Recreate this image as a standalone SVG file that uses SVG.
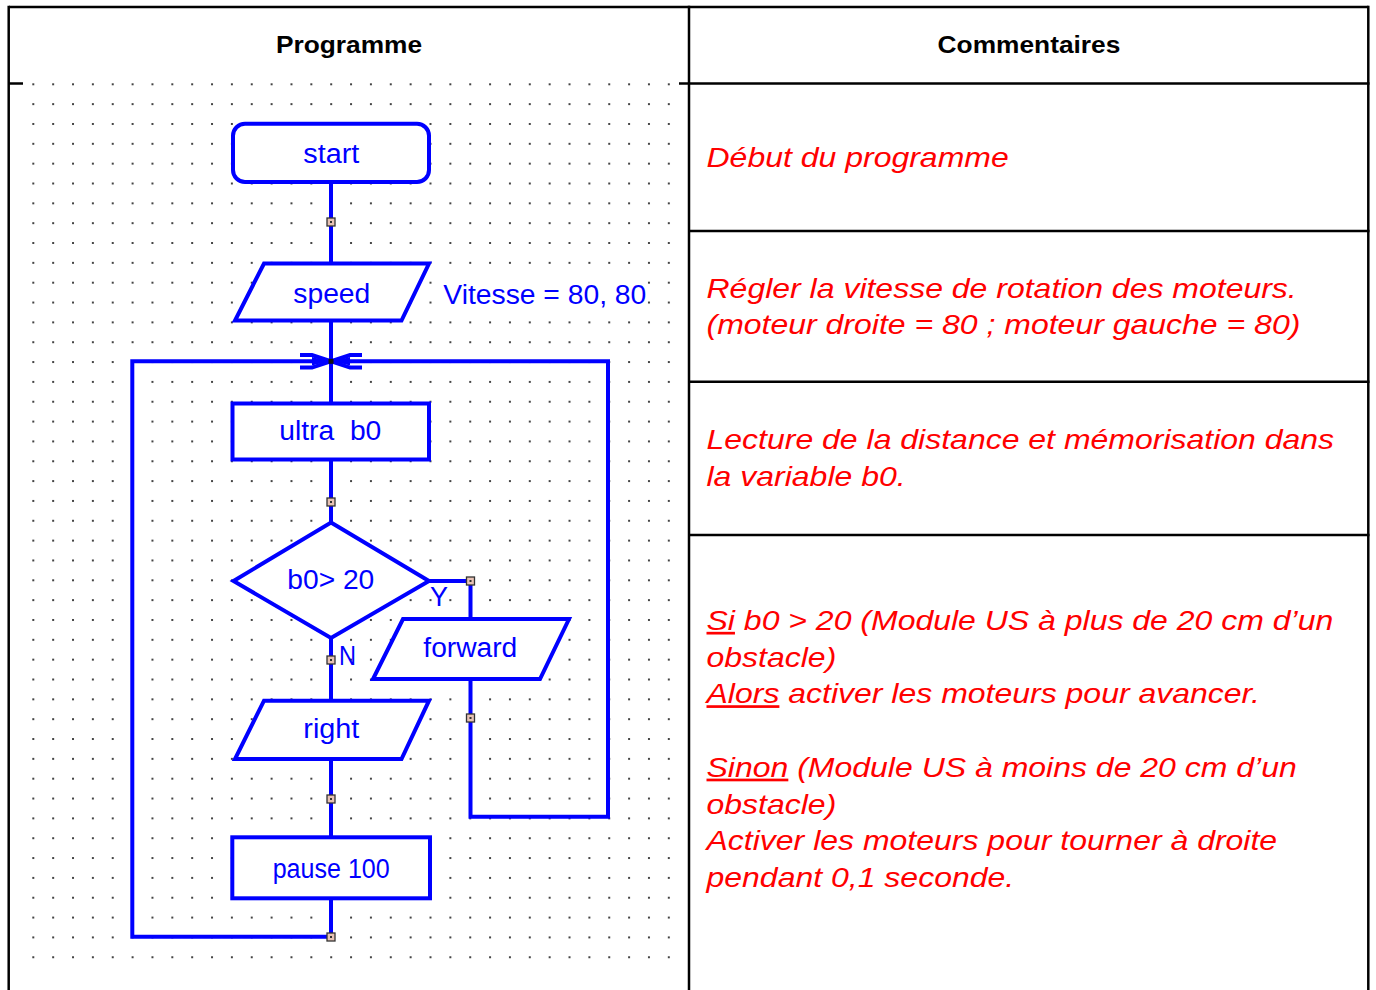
<svg xmlns="http://www.w3.org/2000/svg" width="1376" height="990" viewBox="0 0 1376 990">
<style>
.tb{stroke:#000;stroke-width:2.5;fill:none}
.hd{font-family:"Liberation Sans",Arial,sans-serif;font-weight:bold;font-size:23.5px;fill:#000}
.cm{font-family:"Liberation Sans",Arial,sans-serif;font-style:italic;font-size:27px;fill:#ff0000}
.fl{stroke:#0000ff;stroke-width:4;fill:none;stroke-linejoin:miter}
.nd{stroke:#0000ff;stroke-width:4;fill:#fff}
.ft{font-family:"Liberation Sans",Arial,sans-serif;font-size:27px;fill:#0000ff}
</style>
<defs>
<pattern id="grid" x="32.3" y="83.3" width="19.86" height="19.84" patternUnits="userSpaceOnUse">
<rect x="0" y="0" width="2" height="2" fill="#444"/>
</pattern>
<g id="jn">
<rect x="-4" y="-4" width="8" height="8" fill="#e8c2b4" stroke="#333" stroke-width="1.3"/>
<rect x="-1" y="-1" width="2" height="2" fill="#333"/>
</g>
</defs>
<rect x="0" y="0" width="1376" height="990" fill="#fff"/>
<g id="table">
<line class="tb" x1="9" y1="7" x2="1368.5" y2="7"/>
<line class="tb" x1="8.7" y1="5.8" x2="8.7" y2="990"/>
<line class="tb" x1="689" y1="5.8" x2="689" y2="990"/>
<line class="tb" x1="1368.3" y1="5.8" x2="1368.3" y2="990"/>
<line class="tb" x1="8" y1="83.5" x2="1369.5" y2="83.5"/>
<line class="tb" x1="689" y1="231" x2="1369.5" y2="231"/>
<line class="tb" x1="689" y1="381.8" x2="1369.5" y2="381.8"/>
<line class="tb" x1="689" y1="535" x2="1369.5" y2="535"/>
<text class="hd" text-anchor="middle" transform="translate(349,52.5) scale(1.12,1)">Programme</text>
<text class="hd" text-anchor="middle" transform="translate(1029,52.5) scale(1.12,1)">Commentaires</text>
</g>
<g id="comments">
<text class="cm" transform="translate(706.5,167) scale(1.185,1)">Début du programme</text>
<text class="cm" transform="translate(706.5,297.5) scale(1.185,1)">Régler la vitesse de rotation des moteurs.</text>
<text class="cm" transform="translate(706.5,334.2) scale(1.185,1)">(moteur droite = 80 ; moteur gauche = 80)</text>
<text class="cm" transform="translate(706.5,449.2) scale(1.185,1)">Lecture de la distance et mémorisation dans</text>
<text class="cm" transform="translate(706.5,485.9) scale(1.185,1)">la variable b0.</text>
<text class="cm" transform="translate(706.5,630) scale(1.185,1)"><tspan text-decoration="underline">Si</tspan> b0 &gt; 20 (Module US à plus de 20 cm d’un</text>
<text class="cm" transform="translate(706.5,666.7) scale(1.185,1)">obstacle)</text>
<text class="cm" transform="translate(706.5,703.4) scale(1.185,1)"><tspan text-decoration="underline">Alors</tspan> activer les moteurs pour avancer.</text>
<text class="cm" transform="translate(706.5,776.8) scale(1.185,1)"><tspan text-decoration="underline">Sinon</tspan> (Module US à moins de 20 cm d’un</text>
<text class="cm" transform="translate(706.5,813.5) scale(1.185,1)">obstacle)</text>
<text class="cm" transform="translate(706.5,850.2) scale(1.185,1)">Activer les moteurs pour tourner à droite</text>
<text class="cm" transform="translate(706.5,886.9) scale(1.185,1)">pendant 0,1 seconde.</text>
</g>
<g id="canvas">
<rect x="23" y="82" width="656" height="908" fill="#fff"/>
<rect x="23" y="82" width="656" height="885" fill="url(#grid)"/>
<rect x="436" y="271" width="208" height="43" fill="#fff"/>
</g>
<g id="connectors">
<line class="fl" x1="331" y1="182" x2="331" y2="263.5"/>
<line class="fl" x1="331" y1="320.5" x2="331" y2="403.5"/>
<line class="fl" x1="331" y1="459.5" x2="331" y2="522.5"/>
<polyline class="fl" points="429,581 470.5,581 470.5,619"/>
<line class="fl" x1="331" y1="638" x2="331" y2="700.7"/>
<line class="fl" x1="331" y1="759" x2="331" y2="837.3"/>
<polyline class="fl" points="331,898.3 331,936.7 132.3,936.7 132.3,361.3 331,361.3"/>
<polyline class="fl" points="470.5,679 470.5,816.7 608,816.7 608,361.3 331,361.3"/>
<path d="M300,355 L312,355 L331,361.3 L312,367.6 L300,367.6 M362,355 L350,355 L331,361.3 L350,367.6 L362,367.6" stroke="#0000ff" stroke-width="4" fill="none"/>
<path d="M312,357 L329,361.3 L312,365.6 Z M350,357 L333,361.3 L350,365.6 Z" fill="#0000ff"/>
<rect x="328.5" y="358.8" width="5" height="5" fill="#111"/>
</g>
<g id="node-start">
<rect class="nd" x="233" y="123.7" width="196" height="58.3" rx="12"/>
<text class="ft" x="303.3" y="163" textLength="56" lengthAdjust="spacingAndGlyphs">start</text>
</g>
<g id="node-speed">
<polygon class="nd" points="264,263.5 429,263.5 401.5,320.5 235,320.5"/>
<text class="ft" x="293.3" y="303" textLength="77" lengthAdjust="spacingAndGlyphs">speed</text>
<text class="ft" x="443.3" y="304" textLength="203" lengthAdjust="spacingAndGlyphs">Vitesse = 80, 80</text>
</g>
<g id="node-ultra">
<rect class="nd" x="232.5" y="403.5" width="196.5" height="56"/>
<text class="ft" x="279.3" y="440" textLength="102" lengthAdjust="spacingAndGlyphs" xml:space="preserve">ultra  b0</text>
</g>
<g id="node-decision">
<polygon class="nd" points="331,522.5 429,581 331,638 233.5,581"/>
<text class="ft" x="287.3" y="589.3" textLength="87" lengthAdjust="spacingAndGlyphs" xml:space="preserve">b0&gt; 20</text>
<text class="ft" x="430" y="606" textLength="18" lengthAdjust="spacingAndGlyphs">Y</text>
<text class="ft" x="339" y="665" textLength="17" lengthAdjust="spacingAndGlyphs">N</text>
</g>
<g id="node-forward">
<polygon class="nd" points="403,619 569,619 540,679 373,679"/>
<text class="ft" x="423.3" y="657.3" textLength="94" lengthAdjust="spacingAndGlyphs">forward</text>
</g>
<g id="node-right">
<polygon class="nd" points="264,700.7 429,700.7 401.5,759 235,759"/>
<text class="ft" x="303.3" y="738.3" textLength="56" lengthAdjust="spacingAndGlyphs">right</text>
</g>
<g id="node-pause">
<rect class="nd" x="232.3" y="837.3" width="197.7" height="61"/>
<text class="ft" x="272.7" y="878.3" textLength="117" lengthAdjust="spacingAndGlyphs">pause 100</text>
</g>
<g id="junctions">
<use href="#jn" x="331" y="222"/>
<use href="#jn" x="331" y="502"/>
<use href="#jn" x="470.5" y="581"/>
<use href="#jn" x="331" y="660"/>
<use href="#jn" x="470.5" y="718"/>
<use href="#jn" x="331" y="799"/>
<use href="#jn" x="331" y="937"/>
</g>
</svg>
